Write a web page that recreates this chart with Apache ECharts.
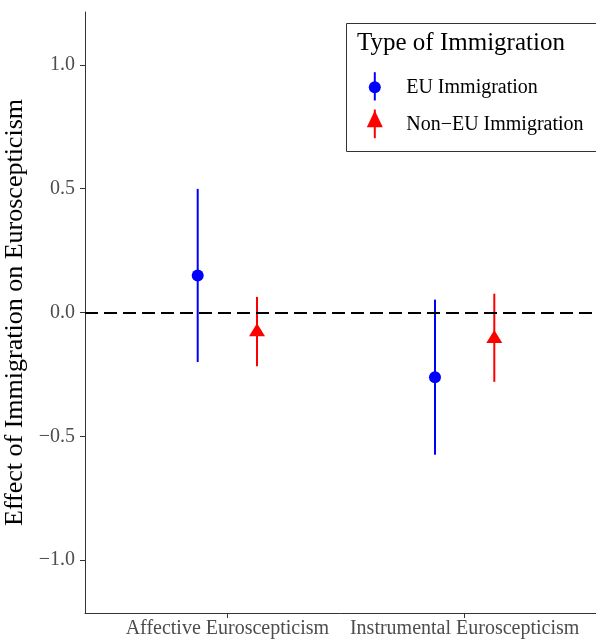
<!DOCTYPE html>
<html>
<head>
<meta charset="utf-8">
<script src="https://cdn.jsdelivr.net/npm/echarts@6/dist/echarts.min.js"></script>
<style>
    html, body {margin: 0; padding: 0; background: #fff;}
    #chart {width: 596px; height: 639px;}
</style>
</head>
<body>
<div id="chart"></div>
<script>
// categories on the x axis
var categories = ['Affective Euroscepticism', 'Instrumental Euroscepticism'];
// EU immigration: point estimate and confidence interval
var euEstimate = [0.149, -0.261];
var euLower = [-0.200, -0.574];
var euUpper = [0.499, 0.052];
// Non-EU immigration
var nonEuEstimate = [-0.078, -0.105];
var nonEuLower = [-0.217, -0.280];
var nonEuUpper = [0.063, 0.076];
// y tick labels
var yTicks = [-1.0, -0.5, 0.0, 0.5, 1.0];

var FONT = 'Liberation Serif';
var dodge = 0.125;

function buildPoints(est, offset) {
    return est.map(function (v, i) {
        return [i + 1 + offset, v];
    });
}
function buildBars(lo, hi, offset) {
    return lo.map(function (v, i) {
        return [i + 1 + offset, v, hi[i]];
    });
}
function errorBar(color) {
    return function (params, api) {
        var p1 = api.coord([api.value(0), api.value(1)]);
        var p2 = api.coord([api.value(0), api.value(2)]);
        return {
            type: 'line',
            shape: {x1: p1[0], y1: p1[1], x2: p2[0], y2: p2[1]},
            style: {stroke: color, lineWidth: 2}
        };
    };
}
function fmt(v) {
    var s = Math.abs(v).toFixed(1);
    return v < 0 ? '\u2212' + s : s;
}

var chart = echarts.init(document.getElementById('chart'));
var option = {
    animation: false,
    grid: {left: 85, right: -11, top: 12, bottom: 26, outerBoundsMode: 'none', containLabel: false},
    xAxis: {
        type: 'value',
        min: 0.4,
        max: 2.6,
        splitLine: {show: false},
        axisLine: {onZero: false, lineStyle: {color: '#333', width: 1}},
        axisTick: {show: true, length: 5, customValues: [1, 2], lineStyle: {color: '#333'}},
        axisLabel: {
            customValues: [1, 2],
            margin: 6,
            color: '#4d4d4d',
            fontFamily: FONT,
            fontSize: 20,
            formatter: function (v) { return categories[Math.round(v) - 1] || ''; }
        }
    },
    yAxis: {
        type: 'value',
        min: -1.213,
        max: 1.213,
        splitLine: {show: false},
        axisLine: {show: true, lineStyle: {color: '#333', width: 1}},
        axisTick: {show: true, length: 5, customValues: yTicks, lineStyle: {color: '#333'}},
        axisLabel: {
            customValues: yTicks,
            margin: 10,
            color: '#4d4d4d',
            fontFamily: FONT,
            fontSize: 20,
            formatter: function (v) { return fmt(v); }
        },
        name: 'Effect of Immigration on Euroscepticism',
        nameLocation: 'middle',
        nameRotate: 90,
        nameGap: 47,
        nameTextStyle: {fontFamily: FONT, fontSize: 26, color: '#000'}
    },
    series: [
        {
            type: 'custom',
            name: 'EU Immigration',
            renderItem: errorBar('#0000ff'),
            data: buildBars(euLower, euUpper, -dodge),
            markLine: {
                silent: true,
                symbol: 'none',
                label: {show: false},
                lineStyle: {color: '#000', type: [13, 6], width: 2.2},
                data: [{yAxis: 0}]
            },
            z: 2
        },
        {
            type: 'custom',
            name: 'Non-EU Immigration',
            renderItem: errorBar('#ff0000'),
            data: buildBars(nonEuLower, nonEuUpper, dodge),
            z: 2
        },
        {
            type: 'scatter',
            symbol: 'circle',
            symbolSize: 12,
            itemStyle: {color: '#0000ff', opacity: 1},
            data: buildPoints(euEstimate, -dodge),
            z: 3
        },
        {
            type: 'scatter',
            symbol: 'triangle',
            symbolSize: [16, 13],
            symbolOffset: [0, -2],
            itemStyle: {color: '#ff0000', opacity: 1},
            data: buildPoints(nonEuEstimate, dodge),
            z: 3
        }
    ],
    graphic: [
        {
            type: 'group',
            left: 346,
            top: 23,
            children: [
                {type: 'rect', shape: {x: 0, y: 0, width: 260, height: 128},
                    style: {fill: '#fff', stroke: '#333', lineWidth: 1}},
                {type: 'text', x: 10.5, y: 7, style: {text: 'Type of Immigration', font: '25px "Liberation Serif"', fill: '#000'}},
                {type: 'line', shape: {x1: 28.3, y1: 48.7, x2: 28.3, y2: 77}, style: {stroke: '#0000ff', lineWidth: 2}},
                {type: 'circle', shape: {cx: 28.3, cy: 63.7, r: 6}, style: {fill: '#0000ff'}},
                {type: 'text', x: 59.7, y: 54.3, style: {text: 'EU Immigration', font: '20px "Liberation Serif"', fill: '#000'}},
                {type: 'line', shape: {x1: 28.3, y1: 86, x2: 28.3, y2: 114.7}, style: {stroke: '#ff0000', lineWidth: 2}},
                {type: 'polygon', shape: {points: [[28.3, 87], [36.3, 103.7], [20.3, 103.7]]}, style: {fill: '#ff0000'}},
                {type: 'text', x: 59.7, y: 91, style: {text: 'Non\u2212EU Immigration', font: '20px "Liberation Serif"', fill: '#000'}}
            ]
        }
    ]
};
chart.setOption(option);
</script>
</body>
</html>
